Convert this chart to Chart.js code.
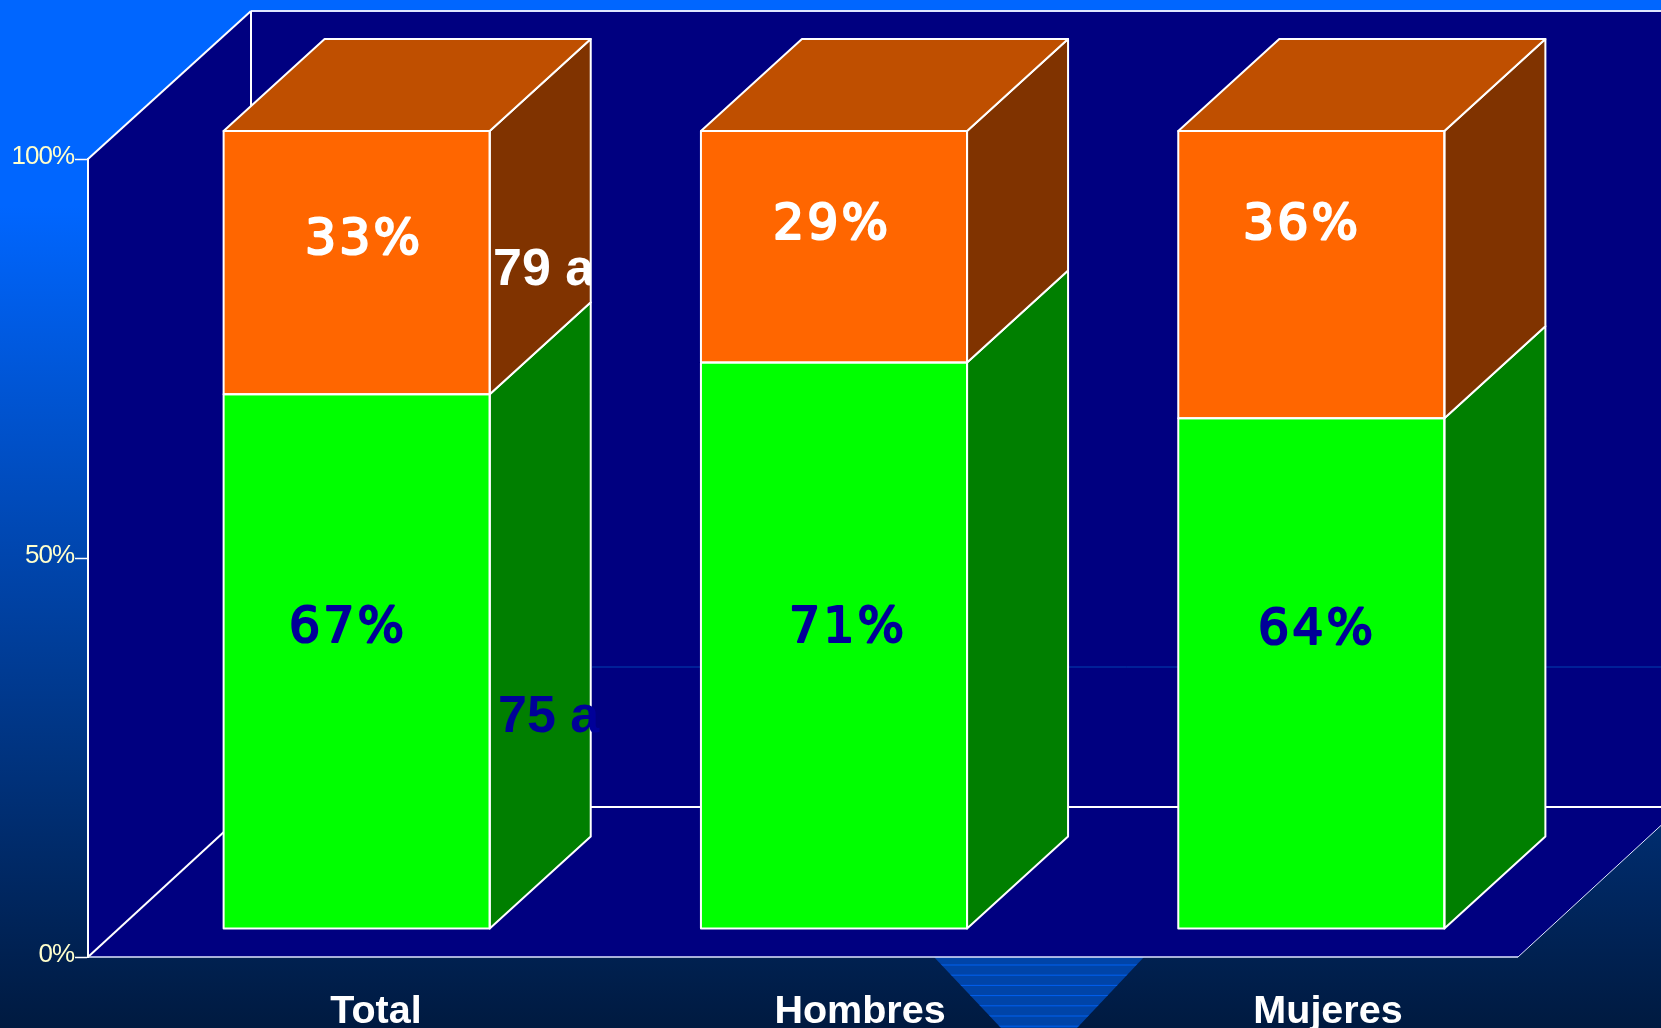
<!DOCTYPE html>
<html>
<head>
<meta charset="utf-8">
<title>Total / Hombres / Mujeres</title>
<style>
    html, body { margin: 0; padding: 0; background: #001a40; overflow: hidden; }
    canvas { display: block; }
</style>
<script src="https://cdn.jsdelivr.net/npm/chart.js@4"></script>
</head>
<body>
<canvas id="myChart" width="1661" height="1028"></canvas>
<script>
const categories = ['Total', 'Hombres', 'Mujeres'];
const greenValues = [67, 71, 64];
const orangeValues = [33, 29, 36];
const yTickLabels = ['0%', '50%', '100%'];
const sideNotes = ['79 a', '75 a'];

const WHITE = '#ffffff';
const NAVY = '#000080';

// the bars stand a bit behind the axis plane, and have their own depth
const barShiftX = 30;
const barShiftY = 28;
const barDepthX = 101;
const barDepthY = 92;
const wallDepthX = 163;
const wallDepthY = 150;
const floorRight = 1518;

// free standing text boxes in the original, so not centred on anything
const greenLabelSpots = [[348, 629], [848, 629], [1317, 631]];
const orangeLabelSpots = [[364, 241], [832, 226], [1302, 226]];
const categorySpots = [[376, 1012], [860, 1012], [1328, 1012]];

function line(ctx, x1, y1, x2, y2, width, color) {
    ctx.strokeStyle = color || WHITE;
    ctx.lineWidth = width || 2;
    ctx.beginPath();
    ctx.moveTo(x1, y1);
    ctx.lineTo(x2, y2);
    ctx.stroke();
}

function poly(ctx, points, fill) {
    ctx.fillStyle = fill;
    ctx.strokeStyle = WHITE;
    ctx.lineWidth = 2;
    ctx.lineJoin = 'round';
    ctx.beginPath();
    points.forEach((p, i) => i ? ctx.lineTo(p[0], p[1]) : ctx.moveTo(p[0], p[1]));
    ctx.closePath();
    ctx.fill();
    ctx.stroke();
}

const room3d = {
    id: 'room3d',
    beforeDraw(chart) {
        const {ctx, width, height, chartArea: a} = chart;
        const g = ctx.createLinearGradient(0, 0, 0, height);
        g.addColorStop(0, '#0066ff');
        g.addColorStop(0.2, '#0066ff');
        g.addColorStop(1, '#001a40');
        ctx.fillStyle = g;
        ctx.fillRect(0, 0, width, height);

        // stripey funnel under the floor
        ctx.save();
        ctx.beginPath();
        ctx.moveTo(934, a.bottom);
        ctx.lineTo(1144, a.bottom);
        ctx.lineTo(1077, height);
        ctx.lineTo(1001, height);
        ctx.closePath();
        ctx.clip();
        ctx.fillStyle = '#0044a8';
        ctx.fillRect(900, a.bottom, 280, height - a.bottom);
        for (let y = 965; y < height; y += 10.2) {
            line(ctx, 900, y, 1180, y, 1, '#0060f0');
        }
        ctx.restore();

        const backX = a.left + wallDepthX;
        const topY = a.top - wallDepthY + 2;
        const floorY = a.bottom - wallDepthY;
        const edgeY = a.bottom - (width - floorRight) * wallDepthY / wallDepthX;
        ctx.fillStyle = NAVY;
        ctx.beginPath();
        ctx.moveTo(a.left, a.top);
        ctx.lineTo(backX, topY);
        ctx.lineTo(width, topY);
        ctx.lineTo(width, edgeY);
        ctx.lineTo(floorRight, a.bottom);
        ctx.lineTo(a.left, a.bottom);
        ctx.closePath();
        ctx.fill();

        line(ctx, 592, 667, width, 667, 1, '#0040b0');
        line(ctx, a.left, a.top, backX, topY);
        line(ctx, backX, topY, width, topY, 2, '#dfe6ff');
        line(ctx, backX, topY, backX, floorY);
        line(ctx, a.left, a.bottom, backX, floorY);
        line(ctx, backX, floorY, width, floorY);
        line(ctx, a.left, a.bottom, floorRight, a.bottom, 1.5, '#dfe6ff');
        line(ctx, floorRight, a.bottom, width, edgeY, 1, '#dfe6ff');

        // y tick labels are a tight narrow type in the original
        ctx.letterSpacing = '-1px';
    },
    beforeDatasetsDraw(chart) {
        chart.ctx.letterSpacing = '0px';
        chart.ctx.save();
        chart.ctx.translate(barShiftX, -barShiftY);
    },
    afterDatasetsDraw(chart) {
        const ctx = chart.ctx;
        const sideColors = ['#007f00', '#803300'];
        chart.data.datasets.forEach((ds, di) => {
            chart.getDatasetMeta(di).data.forEach(bar => {
                const {x, y, base, width} = bar.getProps(['x', 'y', 'base', 'width'], true);
                const left = x - width / 2;
                const right = x + width / 2;
                poly(ctx, [[right, y], [right + barDepthX, y - barDepthY],
                    [right + barDepthX, base - barDepthY], [right, base]], sideColors[di]);
                if (di === chart.data.datasets.length - 1) {
                    poly(ctx, [[left, y], [left + barDepthX, y - barDepthY],
                        [right + barDepthX, y - barDepthY], [right, y]], '#bf4f00');
                }
                ctx.strokeStyle = WHITE;
                ctx.lineWidth = 2;
                ctx.strokeRect(left, y, width, base - y);
            });
        });
        ctx.restore();
    }
};

function percentText(ctx, text, spot) {
    ctx.fillText(text, spot[0], spot[1]);
    ctx.strokeText(text, spot[0], spot[1]);
}

const textBoxes = {
    id: 'textBoxes',
    afterDraw(chart) {
        const ctx = chart.ctx;
        ctx.save();
        ctx.textAlign = 'center';
        ctx.textBaseline = 'middle';
        ctx.lineJoin = 'round';

        // regular weight thickened a little, the real bold is too heavy here
        ctx.font = '49px "DejaVu Sans"';
        ctx.letterSpacing = '3px';
        ctx.lineWidth = 2.2;
        ctx.fillStyle = ctx.strokeStyle = '#000099';
        greenValues.forEach((v, i) => percentText(ctx, v + '%', greenLabelSpots[i]));
        ctx.fillStyle = ctx.strokeStyle = WHITE;
        orangeValues.forEach((v, i) => percentText(ctx, v + '%', orangeLabelSpots[i]));
        ctx.letterSpacing = '0px';

        ctx.font = 'bold 39.5px "Liberation Sans"';
        categories.forEach((c, i) => ctx.fillText(c, categorySpots[i][0], categorySpots[i][1]));

        // leftovers of a longer text in the source, the first one is cut at the box edge
        ctx.textAlign = 'left';
        ctx.font = 'bold 52px "Liberation Sans"';
        ctx.fillStyle = '#000099';
        ctx.fillText(sideNotes[1], 498, 718);
        ctx.beginPath();
        ctx.rect(480, 230, 111, 80);
        ctx.clip();
        ctx.fillStyle = WHITE;
        ctx.fillText(sideNotes[0], 493, 271);
        ctx.restore();
    }
};

new Chart(document.getElementById('myChart'), {
    type: 'bar',
    data: {
        labels: categories,
        datasets: [
            {label: 'green', data: greenValues, backgroundColor: '#00ff00'},
            {label: 'orange', data: orangeValues, backgroundColor: '#ff6600'}
        ]
    },
    options: {
        responsive: false,
        animation: false,
        layout: {padding: {top: 159, right: 141, left: 0, bottom: 71}},
        datasets: {
            bar: {
                clip: false,
                borderWidth: 0,
                barPercentage: 0.5575,
                categoryPercentage: 1
            }
        },
        plugins: {
            legend: {display: false},
            title: {display: false},
            tooltip: {enabled: false}
        },
        scales: {
            x: {
                stacked: true,
                grid: {display: false},
                border: {display: false},
                ticks: {display: false},
                afterFit(scale) { scale.height = 0; }
            },
            y: {
                stacked: true,
                min: 0,
                max: 100,
                afterFit(scale) { scale.width = 88; },
                afterBuildTicks(scale) {
                    scale.ticks = [{value: 0}, {value: 50}, {value: 100}];
                },
                grid: {drawOnChartArea: false, color: WHITE, tickLength: 13, tickWidth: 1.5},
                border: {color: WHITE, width: 2},
                ticks: {
                    color: '#ffffcc',
                    padding: 1,
                    labelOffset: -2,
                    font: {family: '"Liberation Sans"', size: 26},
                    callback: (v) => yTickLabels[v / 50]
                }
            }
        }
    },
    plugins: [room3d, textBoxes]
});
</script>
</body>
</html>
